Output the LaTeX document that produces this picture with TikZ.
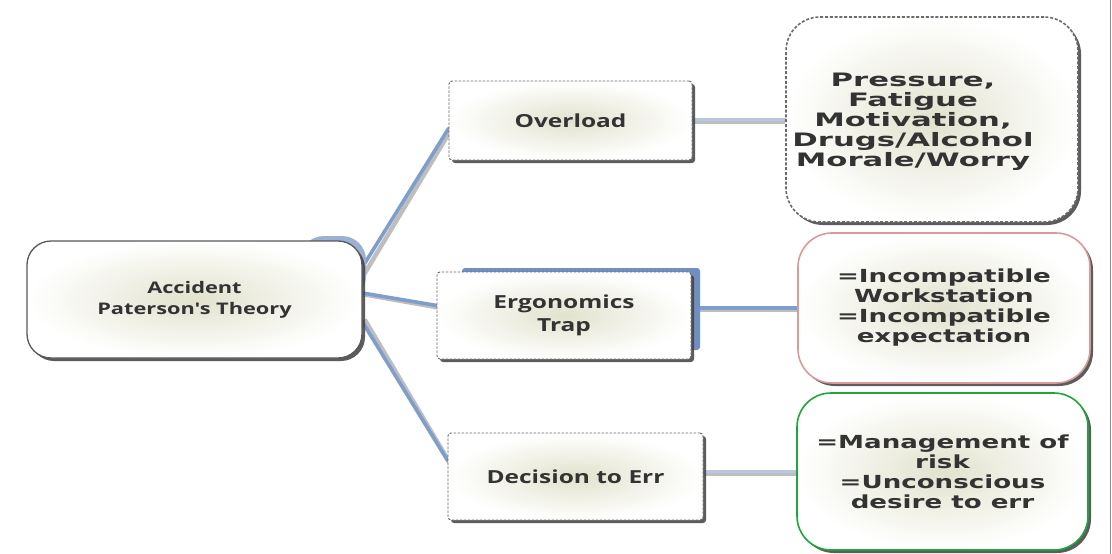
\documentclass[tikz,border=0pt]{standalone}
\usepackage{fontspec}
\usetikzlibrary{shadows,calc}
\newfontfamily\midfont[FakeStretch=1.36]{Open Sans}
\newfontfamily\sidefont[FakeStretch=1.45]{DejaVu Sans}
\newfontfamily\pressfont[FakeStretch=1.66]{DejaVu Sans}
\definecolor{txt}{HTML}{333333}
\definecolor{glow}{HTML}{E2E2CE}
\definecolor{linkblue}{HTML}{7E9FCB}
\definecolor{linklight}{HTML}{B4C8E2}
\definecolor{linkshade}{HTML}{8A8A8A}
\definecolor{ghostblue}{HTML}{6F8FC0}
\definecolor{pinkedge}{HTML}{D99A9A}
\definecolor{greenedge}{HTML}{1FA63A}
\definecolor{dashgray}{HTML}{6A6A6A}
\pgfdeclarelayer{background}
\pgfsetlayers{background,main}
\tikzset{
  card/.style={inner sep=0pt, align=center, text=txt,
    inner color=glow, outer color=white,
    drop shadow={shadow xshift=3pt, shadow yshift=-3pt, fill=black!75, opacity=0.85}},
  rootbox/.style={card, rounded corners=24pt, draw=black!65, line width=1.3pt,
    minimum width=335pt, minimum height=117pt, font=\midfont\bfseries\fontsize{16}{21}\selectfont},
  midbox/.style={card, rounded corners=3pt, draw=dashgray, line width=0.9pt,
    dash pattern=on 2.5pt off 1.5pt, font=\midfont\bfseries\fontsize{18}{23}\selectfont},
  sidebox/.style={card, rounded corners=34pt, line width=1.6pt,
    font=\sidefont\bfseries\fontsize{18}{20}\selectfont},
  link/.style={line width=3.6pt, draw=linkblue, line cap=round},
  linkshadow/.style={line width=4.5pt, draw=linkshade, opacity=0.55},
  plain/.style={inner sep=0pt, align=center, text=txt}
}
\begin{document}
\begin{tikzpicture}[x=1pt, y=-1pt]
\useasboundingbox (0,0) rectangle (1112,554);

% rule along the right border
\draw[black!45, line width=0.8pt] (1110.5,0) -- (1110.5,554);

% blue panels lying behind the root and the ergonomics card
\fill[ghostblue!70, rounded corners=24pt] (300,236) rectangle (366,300);
\fill[ghostblue, rounded corners=3pt] (462,268) rectangle (700,350);

% root
\node[rootbox] (root) at (194.5,299.5) {Accident\\Paterson's Theory};

% middle level
\node[midbox, minimum width=243pt, minimum height=79pt] (over) at (570.5,120.5) {Overload};
\node[midbox, minimum width=254pt, minimum height=87pt] (ergo) at (564,315.5) {Ergonomics\\Trap};
\node[midbox, minimum width=255pt, minimum height=87pt] (dec) at (575.5,476.5) {Decision to Err};

% right level
\node[sidebox, draw=dashgray, dash pattern=on 3pt off 1.8pt,
  minimum width=292pt, minimum height=205pt] (press) at (932,119.5) {};
\node[plain, font=\pressfont\bfseries\fontsize{18.5}{20}\selectfont] (presstext) at (913,122)
  {Pressure,\\Fatigue\\Motivation,\\Drugs/Alcohol\\Morale/Worry};
\node[sidebox, draw=pinkedge, minimum width=292pt, minimum height=150pt] (incomp) at (944,308)
  {=Incompatible\\Workstation\\=Incompatible\\expectation};
\node[sidebox, draw=greenedge, minimum width=291pt, minimum height=157pt] (manage) at (942.5,471.5)
  {=Management of\\risk\\=Unconscious\\desire to err};

% connectors, kept under the cards
\begin{pgfonlayer}{background}
  \fill[white] (0,0) rectangle (1109,554);
  \foreach \a/\b/\sa/\sb in {root/over/28/-8, root/ergo/7/10, root/dec/-18/16}{
    \draw[linkshadow] ([xshift=2pt, yshift=\sa pt-2pt]\a.east) -- ([xshift=2pt, yshift=\sb pt-2pt]\b.west);
    \draw[link] ([xshift=-3pt, yshift=\sa pt]\a.east) -- ([yshift=\sb pt]\b.west);
  }
  \draw[linkshadow] ([yshift=-2pt]press.west -| over.east) -- ([yshift=-2pt]press.west);
  \draw[link, draw=linklight] (press.west -| over.east) -- (press.west);
  \draw[linkshadow] ([yshift=-2pt]incomp.west -| ergo.east) -- ([yshift=-2pt]incomp.west);
  \draw[link] (incomp.west -| ergo.east) -- (incomp.west);
  \draw[linkshadow] ([yshift=-2pt]manage.west -| dec.east) -- ([yshift=-2pt]manage.west);
  \draw[link, draw=linklight] (manage.west -| dec.east) -- (manage.west);
\end{pgfonlayer}
\end{tikzpicture}
\end{document}
